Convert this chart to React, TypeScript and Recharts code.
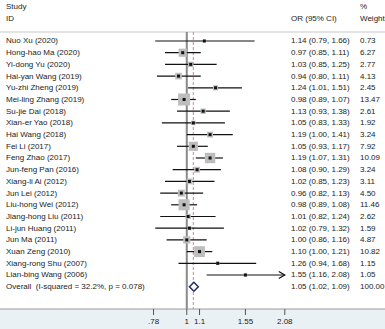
import React from "react";
import { ScatterChart, Scatter, XAxis, YAxis, ReferenceLine, ErrorBar, Customized } from "recharts";

// Datos del forest plot (OR con IC 95% y peso)
const STUDIES: string[] = [
  "Nuo Xu (2020)", "Hong-hao Ma (2020)", "Yi-dong Yu (2020)", "Hai-yan Wang (2019)",
  "Yu-zhi Zheng (2019)", "Mei-ling Zhang (2019)", "Su-jie Dai (2018)", "Xian-er Yao (2018)",
  "Hai Wang (2018)", "Fei Li (2017)", "Feng Zhao (2017)", "Jun-feng Pan (2016)",
  "Xiang-li Ai (2012)", "Jun Lei (2012)", "Liu-hong Wei (2012)", "Jiang-hong Liu (2011)",
  "Li-jun Huang (2011)", "Jun Ma (2011)", "Xuan Zeng (2010)", "Xiang-rong Shu (2007)",
  "Lian-bing Wang (2006)",
];
const OR: number[] = [1.14, 0.97, 1.03, 0.94, 1.24, 0.98, 1.13, 1.05, 1.19, 1.05, 1.19, 1.08, 1.02, 0.96, 0.98, 1.01, 1.02, 1.0, 1.1, 1.26, 1.55];
const LOWER: number[] = [0.79, 0.85, 0.85, 0.8, 1.01, 0.89, 0.93, 0.83, 1.0, 0.93, 1.07, 0.9, 0.85, 0.82, 0.89, 0.82, 0.79, 0.86, 1.0, 0.94, 1.16];
const UPPER: number[] = [1.66, 1.11, 1.25, 1.11, 1.51, 1.07, 1.38, 1.33, 1.41, 1.17, 1.31, 1.29, 1.23, 1.13, 1.08, 1.24, 1.32, 1.16, 1.21, 1.68, 2.08];
const WEIGHT: number[] = [0.73, 6.27, 2.77, 4.13, 2.45, 13.47, 2.61, 1.92, 3.24, 7.92, 10.09, 3.24, 3.11, 4.5, 11.46, 2.62, 1.59, 4.87, 10.82, 1.15, 1.05];

const OVERALL_LABEL = "Overall  (I-squared = 32.2%, p = 0.078)";
const OVERALL = { or: 1.05, lo: 1.02, hi: 1.09, w: 100.0 };

const X_TICKS: number[] = [0.78, 1, 1.1, 1.55, 2.08];
const X_TICK_LABELS: string[] = [".78", "1", "1.1", "1.55", "2.08"];

const FONT = "'Liberation Sans', Arial, sans-serif";
const FS = 8;
const TXT = "#222";
const COL_STUDY = 6;
const COL_OR = 291;
const COL_W = 360;
const HEADER_ROW = -0.77;
const LAST_ROW = 22.9;

const fmt = (v: number) => v.toFixed(2);

const rows = STUDIES.map((name, i) => ({
  name,
  x: OR[i],
  y: i,
  lo: LOWER[i],
  hi: UPPER[i],
  w: WEIGHT[i],
  err: [OR[i] - LOWER[i], UPPER[i] - OR[i]],
}));
const overallRow = { name: OVERALL_LABEL, x: OVERALL.or, y: STUDIES.length, lo: OVERALL.lo, hi: OVERALL.hi, w: OVERALL.w };
const xMax = X_TICKS[X_TICKS.length - 1];
const arrows = rows.filter((r) => r.hi >= xMax).map((r) => ({ x: xMax, y: r.y }));

const RowText = ({ cy, p }: { cy: number; p: any }) => (
  <g fontFamily={FONT} fontSize={FS} fill={TXT}>
    <text x={COL_STUDY} y={cy} dominantBaseline="central" style={{ whiteSpace: "pre" }}>{p.name}</text>
    <text x={COL_OR} y={cy} dominantBaseline="central">{`${fmt(p.x)} (${fmt(p.lo)}, ${fmt(p.hi)})`}</text>
    <text x={COL_W} y={cy} dominantBaseline="central">{fmt(p.w)}</text>
  </g>
);

const BoxShape = (props: any) => {
  const { cx, cy, payload } = props;
  const side = 12 * Math.sqrt(payload.w / 13.47);
  return (
    <g>
      <rect x={cx - side / 2} y={cy - side / 2} width={side} height={side} fill="#bdbdbd" />
      <RowText cy={cy} p={payload} />
    </g>
  );
};

const DotShape = (props: any) => {
  const { cx, cy } = props;
  return <rect x={cx - 1.5} y={cy - 1.5} width={3} height={3} fill="#111" />;
};

const ArrowShape = (props: any) => {
  const { cx, cy } = props;
  return <path d={`M${cx - 6},${cy - 3.5} L${cx},${cy} L${cx - 6},${cy + 3.5}`} fill="none" stroke="#111" strokeWidth={1.2} />;
};

const OverallShape = (props: any) => {
  const { cy, payload } = props;
  return <RowText cy={cy} p={payload} />;
};

const Diamond = (props: any) => {
  const { x1, x2, y1 } = props;
  const mid = (x1 + x2) / 2;
  return (
    <path
      d={`M${x1},${y1} L${mid},${y1 - 4.5} L${x2},${y1} L${mid},${y1 + 4.5} Z`}
      fill="#fff"
      stroke="#1f2f6e"
      strokeWidth={1.5}
    />
  );
};

const Header = () => (
  <g fontFamily={FONT} fontSize={FS} fill={TXT}>
    <text x={COL_STUDY} y={6} dominantBaseline="central">Study</text>
    <text x={COL_STUDY} y={18} dominantBaseline="central">ID</text>
    <text x={COL_OR} y={18} dominantBaseline="central">OR (95% CI)</text>
    <text x={COL_W} y={6} dominantBaseline="central">%</text>
    <text x={COL_W} y={18} dominantBaseline="central">Weight</text>
    <line x1={0} x2={385} y1={32} y2={32} stroke="#dadada" strokeWidth={1.5} />
  </g>
);

const App: React.FC = () => {
  return (
    <div
      style={{
        position: "absolute",
        left: 0,
        top: 0,
        width: 385,
        height: 329,
        background: "linear-gradient(to bottom, #ffffff 309px, #eaf1f4 309px)",
      }}
    >
      <ScatterChart width={385} height={329} margin={{ top: 0, right: 0, bottom: 0, left: 0 }}>
        <XAxis
          dataKey="x"
          type="number"
          scale="log"
          domain={[0.2476, 4.399]}
          allowDataOverflow
          ticks={X_TICKS}
          tickFormatter={(v: number) => X_TICK_LABELS[X_TICKS.indexOf(v)] ?? String(v)}
          height={20}
          axisLine={{ stroke: "#9a9a9a", strokeWidth: 1 }}
          tickLine={{ stroke: "#555" }}
          tickSize={6}
          tickMargin={3}
          tick={{ fontSize: FS, fontFamily: FONT, fill: TXT }}
        />
        <YAxis dataKey="y" type="number" hide domain={[-3.504, 22.906]} reversed allowDataOverflow />
        <Customized component={Header} />
        <ReferenceLine
          segment={[{ x: 1, y: HEADER_ROW }, { x: 1, y: LAST_ROW }]}
          stroke="#8a8a8a"
          strokeWidth={2}
          ifOverflow="visible"
        />
        <ReferenceLine
          segment={[{ x: OVERALL.or, y: HEADER_ROW }, { x: OVERALL.or, y: LAST_ROW }]}
          stroke="#c98a8a"
          strokeWidth={1}
          strokeDasharray="3 2"
          ifOverflow="visible"
        />
        <Scatter data={rows} shape={BoxShape} isAnimationActive={false} />
        <Scatter data={rows} shape={DotShape} isAnimationActive={false}>
          <ErrorBar dataKey="err" direction="x" width={0} stroke="#111" strokeWidth={1.2} />
        </Scatter>
        <Scatter data={arrows} shape={ArrowShape} isAnimationActive={false} />
        <Scatter data={[overallRow]} shape={OverallShape} isAnimationActive={false} />
        <ReferenceLine
          segment={[{ x: OVERALL.lo, y: overallRow.y }, { x: OVERALL.hi, y: overallRow.y }]}
          shape={Diamond}
          ifOverflow="visible"
        />
      </ScatterChart>
    </div>
  );
};

export default App;
